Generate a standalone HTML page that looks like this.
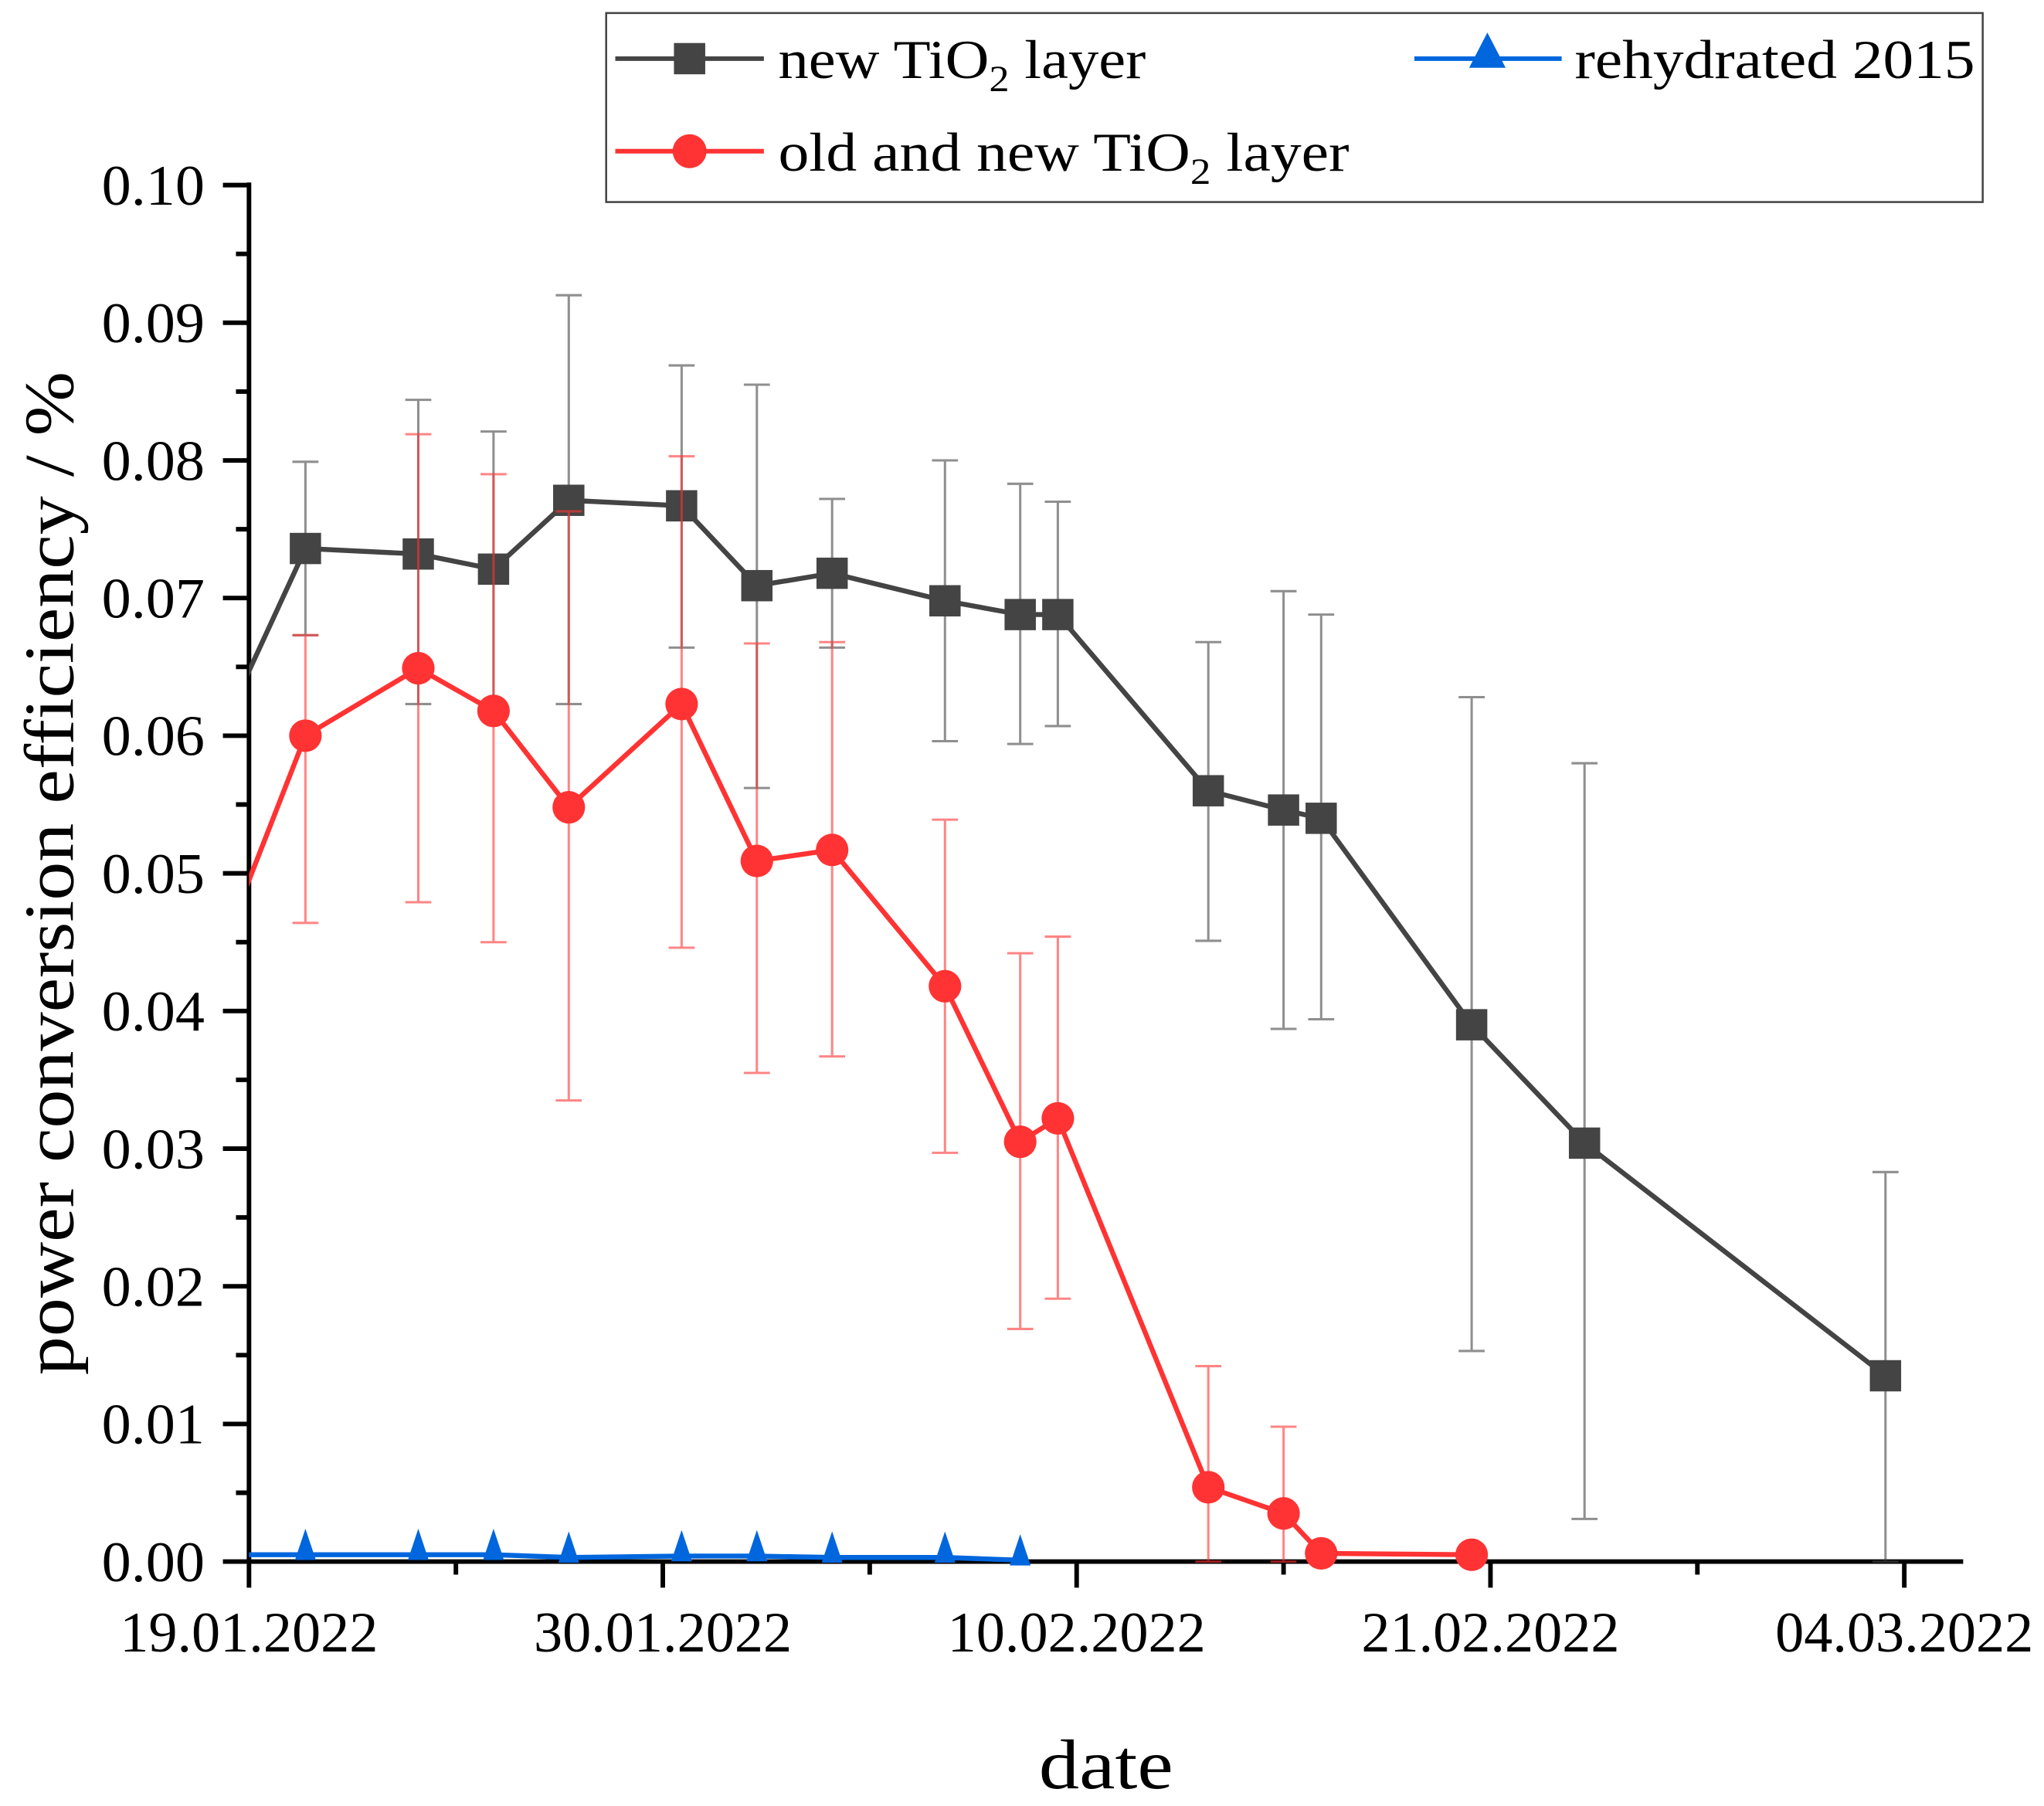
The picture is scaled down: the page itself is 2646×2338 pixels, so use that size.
<!DOCTYPE html>
<html><head><meta charset="utf-8"><style>
html,body{margin:0;padding:0;background:#fff;}
svg{display:block;font-family:"Liberation Serif",serif;}
</style></head><body>
<svg id="chart" width="2646" height="2338" viewBox="0 0 1568 1385.5" xmlns="http://www.w3.org/2000/svg">
<defs><clipPath id="plotclip"><rect x="191" y="100" width="1320" height="1110"/></clipPath></defs>
<g id="axes"></g>
<g id="series" clip-path="url(#plotclip)"></g>
<g id="legend">
  <rect x="465" y="10" width="1056" height="145" fill="#fff" stroke="#444" stroke-width="1.5"/>
  <g>
    <line x1="472" y1="45" x2="586" y2="45" stroke="#444" stroke-width="3.5"/>
    <rect x="517" y="33" width="24" height="24" fill="#444"/>
    <text x="597" y="60" font-size="42" textLength="282" lengthAdjust="spacingAndGlyphs">new TiO<tspan font-size="28" dy="10">2</tspan><tspan dy="-10"> layer</tspan></text>
  </g>
  <g>
    <line x1="1085" y1="45" x2="1198" y2="45" stroke="#0066dd" stroke-width="3.5"/>
    <polygon points="1141,25 1155,52 1127,52" fill="#0066dd"/>
    <text x="1208" y="60" font-size="42" textLength="307" lengthAdjust="spacingAndGlyphs">rehydrated 2015</text>
  </g>
  <g>
    <line x1="472" y1="116" x2="586" y2="116" stroke="#ff3333" stroke-width="3.5"/>
    <circle cx="529" cy="116" r="13" fill="#ff3333"/>
    <text x="597" y="131" font-size="42" textLength="438" lengthAdjust="spacingAndGlyphs">old and new TiO<tspan font-size="28" dy="10">2</tspan><tspan dy="-10"> layer</tspan></text>
  </g>
</g>
</svg>
<script>
// data (x in days after 19.01.2022)
const xTickLabels = ["19.01.2022","30.01.2022","10.02.2022","21.02.2022","04.03.2022"];
const xTickDays = [0, 11, 22, 33, 44];
const yTickLabels = ["0.00","0.01","0.02","0.03","0.04","0.05","0.06","0.07","0.08","0.09","0.10"];
const blackDays = [-1.5, 1.5, 4.5, 6.5, 8.5, 11.5, 13.5, 15.5, 18.5, 20.5, 21.5, 25.5, 27.5, 28.5, 32.5, 35.5, 43.5];
const blackValues = [0.0558, 0.0736, 0.0732, 0.0721, 0.0771, 0.0767, 0.0709, 0.0718, 0.0698, 0.0688, 0.0688, 0.0560, 0.0546, 0.0540, 0.0390, 0.0304, 0.0135];
const blackErrUp = [0, 0.0063, 0.0112, 0.0100, 0.0149, 0.0102, 0.0146, 0.0054, 0.0102, 0.0095, 0.0082, 0.0108, 0.0159, 0.0148, 0.0238, 0.0276, 0.0148];
const blackErrDown = [0, 0.0063, 0.0109, 0.0100, 0.0148, 0.0103, 0.0147, 0.0054, 0.0102, 0.0094, 0.0081, 0.0109, 0.0159, 0.0146, 0.0237, 0.0273, 0.0148];
const redDays = [-1.5, 1.5, 4.5, 6.5, 8.5, 11.5, 13.5, 15.5, 18.5, 20.5, 21.5, 25.5, 27.5, 28.5, 32.5];
const redValues = [0.0390, 0.0600, 0.0649, 0.0618, 0.0548, 0.0623, 0.0509, 0.0517, 0.0418, 0.0305, 0.0322, 0.0054, 0.0035, 0.0006, 0.0005];
const redErrUp = [0, 0.0073, 0.0170, 0.0172, 0.0215, 0.0180, 0.0158, 0.0151, 0.0121, 0.0137, 0.0132, 0.0088, 0.0063, 0, 0];
const redErrDown = [0, 0.0136, 0.0170, 0.0168, 0.0213, 0.0177, 0.0154, 0.0150, 0.0121, 0.0136, 0.0131, 0.0054, 0.0035, 0, 0];
const blueDays = [-1.5, 1.5, 4.5, 6.5, 8.5, 11.5, 13.5, 15.5, 18.5, 20.5];
const blueValues = [0.0005, 0.0005, 0.0005, 0.0005, 0.0003, 0.0004, 0.0004, 0.0003, 0.0003, 0.0001];

const NS = "http://www.w3.org/2000/svg";
const X0 = 191, PXDAY = 28.86, Y0 = 1198, PXUNIT = 10560;
function xs(d){ return X0 + d * PXDAY; }
function ys(v){ return Y0 - v * PXUNIT; }
function mk(tag, attrs, parent){
  const e = document.createElementNS(NS, tag);
  for (const k in attrs) e.setAttribute(k, attrs[k]);
  parent.appendChild(e); return e;
}
const axes = document.getElementById('axes');
const series = document.getElementById('series');

let yl = mk('line', {x1:X0, y1:140, x2:X0, y2:Y0+1, stroke:'#000', 'stroke-width':3.5}, axes);


let xl = mk('line', {x1:X0-2, y1:Y0, x2:1506, y2:Y0, stroke:'#000', 'stroke-width':3.5}, axes);



yTickLabels.forEach((lab, i) => {
  const v = i * 0.01, y = ys(v);
  const t = mk('line', {x1:X0-20, y1:y, x2:X0, y2:y, stroke:'#000', 'stroke-width':3.5}, axes);
  
  
  if (i < yTickLabels.length - 1) {
    const ym = ys(v + 0.005);
    const m = mk('line', {x1:X0-10, y1:ym, x2:X0, y2:ym, stroke:'#000', 'stroke-width':3.5}, axes);
    
    
  }
  const tx = mk('text', {x:78, y:y+15, 'font-size':44, textLength:79, lengthAdjust:'spacingAndGlyphs'}, axes);
  tx.textContent = lab;
  
  
});
xTickLabels.forEach((lab, i) => {
  const x = xs(xTickDays[i]);
  const t = mk('line', {x1:x, y1:Y0, x2:x, y2:Y0+20, stroke:'#000', 'stroke-width':3.5}, axes);
  
  
  if (i < xTickLabels.length - 1) {
    const xm = xs(xTickDays[i] + 5.5);
    const m = mk('line', {x1:xm, y1:Y0, x2:xm, y2:Y0+10, stroke:'#000', 'stroke-width':3.5}, axes);
    
    
  }
  const tx = mk('text', {x:x-99, y:1267, 'font-size':44, textLength:198, lengthAdjust:'spacingAndGlyphs'}, axes);
  tx.textContent = lab;
  
  
});
let xt = mk('text', {x:797, y:1372, 'font-size':54, textLength:103, lengthAdjust:'spacingAndGlyphs'}, axes);
xt.textContent = 'date';


let yt = mk('text', {x:-385, y:0, 'font-size':54, textLength:770, lengthAdjust:'spacingAndGlyphs', transform:'translate(56,670) rotate(-90)'}, axes);
yt.textContent = 'power conversion efficiency / %';



function drawSeries(name, days, vals, up, down, color, marker){
  const g = mk('g', {}, series);
  
  
  if (up) {
    days.forEach((d, i) => {
      if (!up[i] && !down[i]) return;
      const x = xs(d), y1 = ys(vals[i] + up[i]), y2 = ys(Math.max(0, vals[i] - down[i]));
      const eb = mk('path', {d:`M${x},${y1}V${y2}M${x-10},${y1}H${x+10}M${x-10},${y2}H${x+10}`, stroke:color, 'stroke-width':1.8, 'stroke-opacity':0.6, fill:'none'}, g);
      
      
    });
  }
  const pts = days.map((d, i) => xs(d) + ',' + ys(vals[i])).join(' ');
  const pl = mk('polyline', {points:pts, fill:'none', stroke:color, 'stroke-width':3.8}, g);
  
  
  days.forEach((d, i) => {
    const x = xs(d), y = ys(vals[i]);
    let m;
    if (marker === 'square') m = mk('rect', {x:x-12, y:y-12, width:24, height:24, fill:color}, g);
    else if (marker === 'circle') m = mk('circle', {cx:x, cy:y, r:12.5, fill:color}, g);
    else m = mk('polygon', {points:`${x},${y-20} ${x+8},${y+4} ${x-8},${y+4}`, fill:color}, g);
    
    
  });
}
drawSeries('new-tio2', blackDays, blackValues, blackErrUp, blackErrDown, '#444444', 'square');
drawSeries('old-and-new-tio2', redDays, redValues, redErrUp, redErrDown, '#ff3333', 'circle');
drawSeries('rehydrated-2015', blueDays, blueValues, null, null, '#0066dd', 'triangle');
</script>
</body></html>
